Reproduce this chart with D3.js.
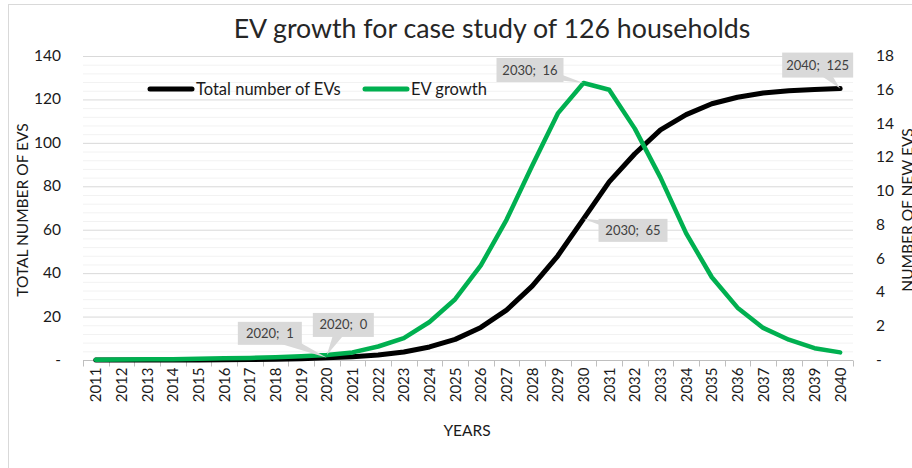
<!DOCTYPE html>
<html>
<head>
<meta charset="utf-8">
<title>EV growth</title>
<script src="https://cdn.jsdelivr.net/npm/d3@7"></script>
<style>
  body { margin: 0; background: #fff; }
  text { font-family: Lato, "Open Sans", sans-serif; }
</style>
</head>
<body>
<svg id="chart" width="912" height="468"></svg>
<script>
// years on the category axis
const years = d3.range(2011, 2041);

// cumulative number of EVs (left axis)
const totalEVs = [0, 0, 0, 0, 0.05, 0.1, 0.2, 0.35, 0.6, 1,
                  1.5, 2.3, 3.7, 6, 9.5, 15, 23, 34, 48, 65,
                  82, 95, 106, 113, 118, 121, 123, 124, 124.6, 125];

// new EVs per year (right axis)
const evGrowth = [0.02, 0.03, 0.04, 0.05, 0.07, 0.1, 0.12, 0.17, 0.22, 0.3,
                  0.45, 0.8, 1.3, 2.25, 3.6, 5.6, 8.3, 11.5, 14.6, 16.4,
                  16.0, 13.7, 10.8, 7.5, 4.9, 3.1, 1.9, 1.2, 0.7, 0.45];

const leftTicks = [0, 20, 40, 60, 80, 100, 120, 140];
const rightTicks = [0, 2, 4, 6, 8, 10, 12, 14, 16, 18];

// labelled points: series, year, box offset from the point
const callouts = [
  { series: "total", year: 2020, dx: -89, dy: -36, w: 64, h: 23 },
  { series: "growth", year: 2020, dx: -14, dy: -42, w: 61, h: 24 },
  { series: "growth", year: 2030, dx: -87, dy: -25, w: 67, h: 24 },
  { series: "total", year: 2030, dx: 15, dy: 0, w: 69, h: 23 },
  { series: "total", year: 2040, dx: -58, dy: -36, w: 71, h: 25 }
];

const svg = d3.select("#chart");
const plot = { left: 83, right: 853, top: 56, bottom: 360 };

// chart frame (only top and left edges are visible)
svg.append("rect")
  .attr("x", 8.5).attr("y", 4.5)
  .attr("width", 1000).attr("height", 1000)
  .attr("fill", "none").attr("stroke", "#d9d9d9");

const x = d3.scaleBand().domain(years).range([plot.left, plot.right]);
const yL = d3.scaleLinear().domain([0, 140]).range([plot.bottom, plot.top]);
const yR = d3.scaleLinear().domain([0, 18]).range([plot.bottom, plot.top]);

// minor gridlines every 4, major every 20
svg.append("g").selectAll("line")
  .data(d3.range(0, 141, 4).filter(v => v % 20 !== 0))
  .join("line")
  .attr("x1", plot.left).attr("x2", plot.right)
  .attr("y1", d => yL(d) + 0.5).attr("y2", d => yL(d) + 0.5)
  .attr("stroke", "#f2f2f2");

svg.append("g").selectAll("line")
  .data(leftTicks.filter(v => v > 0))
  .join("line")
  .attr("x1", plot.left).attr("x2", plot.right)
  .attr("y1", d => yL(d) + 0.5).attr("y2", d => yL(d) + 0.5)
  .attr("stroke", "#d9d9d9");

// x axis: ticks sit between the categories
const xAxis = svg.append("g").attr("transform", `translate(0,${plot.bottom + 0.5})`);
xAxis.append("line")
  .attr("x1", plot.left).attr("x2", plot.right)
  .attr("stroke", "#bfbfbf");
xAxis.selectAll("line.tick")
  .data(d3.range(years.length + 1))
  .join("line").attr("class", "tick")
  .attr("x1", i => Math.round(plot.left + i * x.step()) + 0.5)
  .attr("x2", i => Math.round(plot.left + i * x.step()) + 0.5)
  .attr("y1", 0).attr("y2", 6)
  .attr("stroke", "#bfbfbf");
xAxis.selectAll("text")
  .data(years)
  .join("text")
  .attr("transform", d => `translate(${x(d) + x.bandwidth() / 2 + 5.5},7) rotate(-90)`)
  .attr("text-anchor", "end")
  .attr("font-size", 15)
  .attr("fill", "#1a1a1a")
  .text(d => d);

// left and right tick labels
const fmt = v => v === 0 ? "-" : v;
svg.append("g").selectAll("text")
  .data(leftTicks)
  .join("text")
  .attr("x", 61).attr("y", d => yL(d) + 5)
  .attr("text-anchor", "end")
  .attr("font-size", 15.5)
  .attr("fill", "#1a1a1a")
  .text(fmt);

svg.append("g").selectAll("text")
  .data(rightTicks)
  .join("text")
  .attr("x", 876).attr("y", d => yR(d) + 5)
  .attr("font-size", 15.5)
  .attr("fill", "#1a1a1a")
  .text(fmt);

// lines (green drawn on top of black)
const lineL = d3.line().x((d, i) => x(years[i]) + x.bandwidth() / 2).y(d => yL(d));
const lineR = d3.line().x((d, i) => x(years[i]) + x.bandwidth() / 2).y(d => yR(d));

svg.append("path").datum(totalEVs)
  .attr("d", lineL)
  .attr("fill", "none").attr("stroke", "#000")
  .attr("stroke-width", 5).attr("stroke-linejoin", "round").attr("stroke-linecap", "round");

svg.append("path").datum(evGrowth)
  .attr("d", lineR)
  .attr("fill", "none").attr("stroke", "#00b050")
  .attr("stroke-width", 4.5).attr("stroke-linejoin", "round").attr("stroke-linecap", "round");

// data callouts
const cg = svg.append("g");
callouts.forEach(c => {
  const i = years.indexOf(c.year);
  const v = c.series === "total" ? totalEVs[i] : evGrowth[i];
  const px = x(c.year) + x.bandwidth() / 2;
  const py = c.series === "total" ? yL(v) : yR(v);
  const bx = px + c.dx, by = py + c.dy;
  const cx = bx + c.w / 2, cy = by + c.h / 2;
  // wedge from box centre to the point
  const ang = Math.atan2(py - cy, px - cx);
  const s = 7;
  cg.append("path")
    .attr("d", `M${cx - s * Math.sin(ang)},${cy + s * Math.cos(ang)}L${px},${py}L${cx + s * Math.sin(ang)},${cy - s * Math.cos(ang)}Z`)
    .attr("fill", "#d9d9d9");
  cg.append("rect")
    .attr("x", bx).attr("y", by).attr("width", c.w).attr("height", c.h)
    .attr("fill", "#d9d9d9");
  cg.append("text")
    .attr("x", cx).attr("y", cy + 4.5)
    .attr("text-anchor", "middle")
    .attr("font-size", 13)
    .attr("fill", "#404040")
    .style("white-space", "pre")
    .text(`${c.year};  ${Math.round(v)}`);
});

// legend
const legend = [
  { name: "Total number of EVs", color: "#000", x: 150 },
  { name: "EV growth", color: "#00b050", x: 365 }
];
legend.forEach(l => {
  svg.append("line")
    .attr("x1", l.x).attr("x2", l.x + 42).attr("y1", 89).attr("y2", 89)
    .attr("stroke", l.color).attr("stroke-width", 5).attr("stroke-linecap", "round");
  svg.append("text")
    .attr("x", l.x + 46).attr("y", 95)
    .attr("font-size", 16.5)
    .attr("fill", "#1a1a1a")
    .text(l.name);
});

// title and axis titles
const title = svg.append("text")
  .attr("x", 492).attr("y", 38)
  .attr("text-anchor", "middle")
  .attr("font-size", 24)
  .attr("fill", "#262626")
  .text("EV growth for case study of 126 households");
const tw = title.node().getComputedTextLength();
title.attr("font-size", 24 * 517 / tw);

svg.append("text")
  .attr("transform", "translate(28,210) rotate(-90)")
  .attr("text-anchor", "middle")
  .attr("font-size", 15.5)
  .attr("fill", "#1a1a1a")
  .text("TOTAL NUMBER OF EVS");

svg.append("text")
  .attr("transform", "translate(913,210) rotate(-90)")
  .attr("text-anchor", "middle")
  .attr("font-size", 15.5)
  .attr("fill", "#1a1a1a")
  .text("NUMBER OF NEW EVS");

svg.append("text")
  .attr("x", 467).attr("y", 436)
  .attr("text-anchor", "middle")
  .attr("font-size", 15.5)
  .attr("fill", "#1a1a1a")
  .text("YEARS");
</script>
</body>
</html>
